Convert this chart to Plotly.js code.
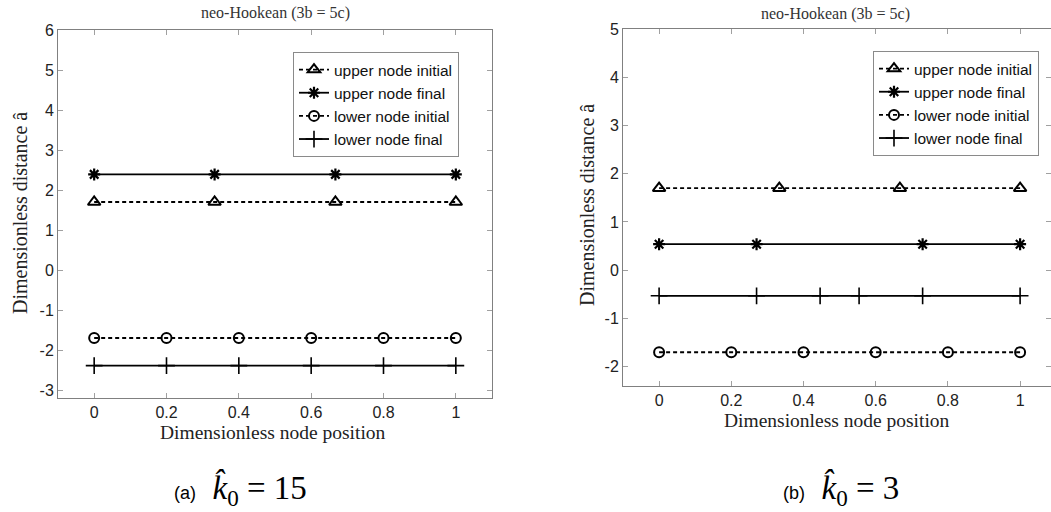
<!DOCTYPE html>
<html>
<head>
<meta charset="utf-8">
<script src="https://cdn.plot.ly/plotly-3.0.1.min.js"></script>
<style>html,body{margin:0;padding:0;background:#fff;}#chart{width:1051px;height:512px;}</style>
</head>
<body>
<div id="chart"></div>
<script>
// ---- Data ----
const seriesNames = ['upper node initial', 'upper node final', 'lower node initial', 'lower node final'];

// (a) k0 = 15
const upperInitA_x = [0, 0.333, 0.667, 1];
const upperInitA_y = [1.7, 1.7, 1.7, 1.7];
const upperFinalA_x = [0, 0.333, 0.667, 1];
const upperFinalA_y = [2.39, 2.39, 2.39, 2.39];
const lowerInitA_x = [0, 0.2, 0.4, 0.6, 0.8, 1];
const lowerInitA_y = [-1.7, -1.7, -1.7, -1.7, -1.7, -1.7];
const lowerFinalA_x = [0, 0.2, 0.4, 0.6, 0.8, 1];
const lowerFinalA_y = [-2.39, -2.39, -2.39, -2.39, -2.39, -2.39];

// (b) k0 = 3
const upperInitB_x = [0, 0.333, 0.667, 1];
const upperInitB_y = [1.7, 1.7, 1.7, 1.7];
const upperFinalB_x = [0, 0.27, 0.73, 1];
const upperFinalB_y = [0.54, 0.54, 0.54, 0.54];
const lowerInitB_x = [0, 0.2, 0.4, 0.6, 0.8, 1];
const lowerInitB_y = [-1.7, -1.7, -1.7, -1.7, -1.7, -1.7];
const lowerFinalB_x = [0, 0.27, 0.446, 0.554, 0.73, 1];
const lowerFinalB_y = [-0.53, -0.53, -0.53, -0.53, -0.53, -0.53];

// Tick labels
const xTickVals = [0, 0.2, 0.4, 0.6, 0.8, 1];
const xTickText = ['0', '0.2', '0.4', '0.6', '0.8', '1'];
const yTickValsA = [-3, -2, -1, 0, 1, 2, 3, 4, 5, 6];
const yTickTextA = ['-3', '-2', '-1', '0', '1', '2', '3', '4', '5', '6'];
const yTickValsB = [-2, -1, 0, 1, 2, 3, 4, 5];
const yTickTextB = ['-2', '-1', '0', '1', '2', '3', '4', '5'];

const titleText = 'neo-Hookean (3b = 5c)';
const xLabel = 'Dimensionless node position';
const yLabel = 'Dimensionless distance â';

// ---- Styles ----
const W = 1051, H = 512;
const px = v => v / W;
const py = v => 1 - v / H;
const dashed = '4px,3px';
const styles = [
  {symbol: 'triangle-up-open', size: 11, lw: 2, dash: dashed},
  {symbol: 'asterisk-open', size: 10, lw: 2.2, dash: 'solid'},
  {symbol: 'circle-open', size: 10, lw: 2, dash: dashed},
  {symbol: 'cross-thin-open', size: 12, lw: 1.6, dash: 'solid'}
];

function mk(x, y, i, xa, ya, leg) {
  const s = styles[i];
  return {
    x: x, y: y, xaxis: xa, yaxis: ya, legend: leg,
    type: 'scatter', mode: 'lines+markers', name: seriesNames[i],
    line: {color: '#000', width: 1.8, dash: s.dash},
    marker: {symbol: s.symbol, size: s.size, color: '#000', line: {color: '#000', width: s.lw}}
  };
}

const traces = [
  mk(upperInitA_x, upperInitA_y, 0, 'x', 'y', 'legend'),
  mk(upperFinalA_x, upperFinalA_y, 1, 'x', 'y', 'legend'),
  mk(lowerInitA_x, lowerInitA_y, 2, 'x', 'y', 'legend'),
  mk(lowerFinalA_x, lowerFinalA_y, 3, 'x', 'y', 'legend'),
  mk(upperInitB_x, upperInitB_y, 0, 'x2', 'y2', 'legend2'),
  mk(upperFinalB_x, upperFinalB_y, 1, 'x2', 'y2', 'legend2'),
  mk(lowerInitB_x, lowerInitB_y, 2, 'x2', 'y2', 'legend2'),
  mk(lowerFinalB_x, lowerFinalB_y, 3, 'x2', 'y2', 'legend2')
];

const axisCommon = {
  showline: true, linecolor: '#808080', linewidth: 1, mirror: 'ticks',
  ticks: 'inside', ticklen: 5, tickcolor: '#a0a0a0', tickwidth: 1,
  showgrid: false, zeroline: false,
  tickfont: {family: 'Liberation Sans, Arial, sans-serif', size: 16, color: '#222'}
};

const legendCommon = {
  bgcolor: '#fff', bordercolor: '#8a8a8a', borderwidth: 1,
  font: {family: 'Liberation Sans, Arial, sans-serif', size: 15.5, color: '#111'},
  itemwidth: 30, tracegroupgap: 0, xanchor: 'right', yanchor: 'top'
};

const serif = 'Liberation Serif, Times New Roman, serif';

const layout = {
  width: W, height: H,
  margin: {l: 0, r: 0, t: 0, b: 0},
  paper_bgcolor: '#fff', plot_bgcolor: '#fff',
  showlegend: true,
  xaxis: Object.assign({}, axisCommon, {domain: [px(58), px(492)], range: [-0.1, 1.1], anchor: 'y',
    tickvals: xTickVals, ticktext: xTickText}),
  yaxis: Object.assign({}, axisCommon, {domain: [py(398), py(30)], range: [-3.2, 6], anchor: 'x',
    tickvals: yTickValsA, ticktext: yTickTextA}),
  xaxis2: Object.assign({}, axisCommon, {domain: [px(623), 1], range: [-0.1, 1.0856], anchor: 'y2',
    tickvals: xTickVals, ticktext: xTickText}),
  yaxis2: Object.assign({}, axisCommon, {domain: [py(386), py(29)], range: [-2.4, 5], anchor: 'x2',
    tickvals: yTickValsB, ticktext: yTickTextB}),
  legend: Object.assign({}, legendCommon, {x: px(459), y: py(52)}),
  legend2: Object.assign({}, legendCommon, {x: px(1039), y: py(51)}),
  annotations: [
    {text: titleText, x: px(275), y: py(13), xref: 'paper', yref: 'paper', showarrow: false,
     xanchor: 'center', yanchor: 'middle', font: {family: serif, size: 16, color: '#333'}},
    {text: titleText, x: px(835), y: py(14), xref: 'paper', yref: 'paper', showarrow: false,
     xanchor: 'center', yanchor: 'middle', font: {family: serif, size: 16, color: '#333'}},
    {text: xLabel, x: px(273), y: py(432), xref: 'paper', yref: 'paper', showarrow: false,
     xanchor: 'center', yanchor: 'middle', font: {family: serif, size: 19.5, color: '#222'}},
    {text: xLabel, x: px(837), y: py(420), xref: 'paper', yref: 'paper', showarrow: false,
     xanchor: 'center', yanchor: 'middle', font: {family: serif, size: 19.5, color: '#222'}},
    {text: yLabel, x: px(20), y: py(213), xref: 'paper', yref: 'paper', showarrow: false, textangle: -90,
     xanchor: 'center', yanchor: 'middle', font: {family: serif, size: 20, color: '#222'}},
    {text: yLabel, x: px(587), y: py(205), xref: 'paper', yref: 'paper', showarrow: false, textangle: -90,
     xanchor: 'center', yanchor: 'middle', font: {family: serif, size: 20, color: '#222'}},
    {text: '<span style="font-family:Liberation Sans,Arial,sans-serif;font-size:18px">(a)</span>  <i>k̂</i><sub>0</sub> = 15',
     x: px(172), y: py(490), xref: 'paper', yref: 'paper', showarrow: false,
     xanchor: 'left', yanchor: 'middle', font: {family: serif, size: 33, color: '#000'}},
    {text: '<span style="font-family:Liberation Sans,Arial,sans-serif;font-size:18px">(b)</span>  <i>k̂</i><sub>0</sub> = 3',
     x: px(781), y: py(490), xref: 'paper', yref: 'paper', showarrow: false,
     xanchor: 'left', yanchor: 'middle', font: {family: serif, size: 33, color: '#000'}}
  ]
};

Plotly.newPlot('chart', traces, layout, {staticPlot: true, displayModeBar: false});
</script>
</body>
</html>
